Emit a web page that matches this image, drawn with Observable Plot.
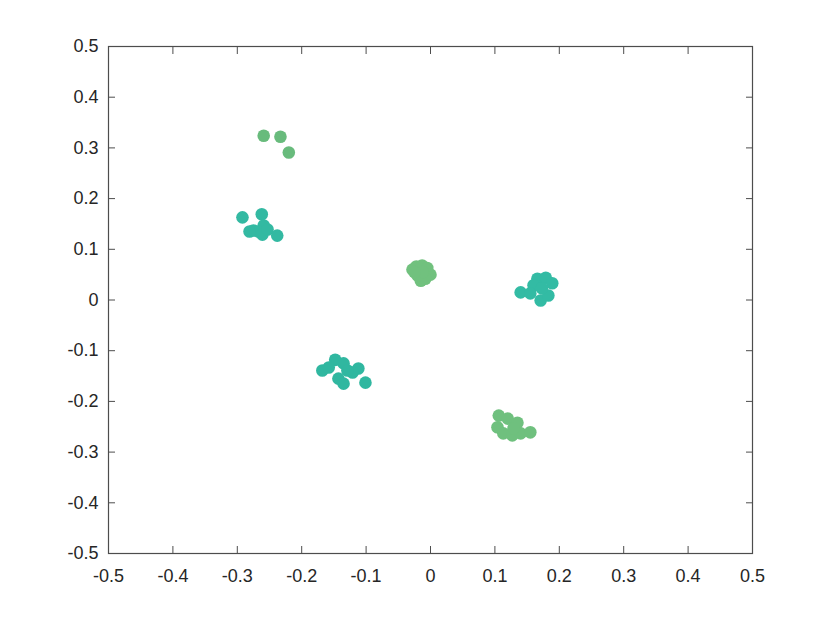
<!DOCTYPE html>
<html>
<head>
<meta charset="utf-8">
<script src="https://cdn.jsdelivr.net/npm/d3@7"></script>
<script src="https://cdn.jsdelivr.net/npm/@observablehq/plot@0.6"></script>
<style>
  body { margin: 0; background: #fff; }
  #chart { width: 830px; height: 623px; }
</style>
</head>
<body>
<div id="chart"></div>
<script>
// Tick positions and labels
const xTicks = [-0.5, -0.4, -0.3, -0.2, -0.1, 0, 0.1, 0.2, 0.3, 0.4, 0.5];
const xTickLabels = ["-0.5", "-0.4", "-0.3", "-0.2", "-0.1", "0", "0.1", "0.2", "0.3", "0.4", "0.5"];
const yTicks = [-0.5, -0.4, -0.3, -0.2, -0.1, 0, 0.1, 0.2, 0.3, 0.4, 0.5];
const yTickLabels = ["-0.5", "-0.4", "-0.3", "-0.2", "-0.1", "0", "0.1", "0.2", "0.3", "0.4", "0.5"];

// Clusters (x, y)
const clusterA_x = [-0.259, -0.233, -0.220];
const clusterA_y = [0.324, 0.322, 0.291];

const clusterB_x = [-0.292, -0.262, -0.259, -0.275, -0.267, -0.261, -0.253, -0.238, -0.281];
const clusterB_y = [0.163, 0.169, 0.147, 0.137, 0.135, 0.129, 0.139, 0.127, 0.135];

const clusterC_x = [-0.028, -0.022, -0.013, -0.005, 0.000, -0.008, -0.015, -0.020, -0.012, -0.025];
const clusterC_y = [0.060, 0.066, 0.068, 0.063, 0.050, 0.042, 0.038, 0.048, 0.055, 0.055];

const clusterD_x = [0.140, 0.166, 0.179, 0.189, 0.160, 0.171, 0.183, 0.155, 0.173];
const clusterD_y = [0.015, 0.042, 0.044, 0.033, 0.029, -0.001, 0.009, 0.013, 0.023];

const clusterE_x = [-0.168, -0.148, -0.135, -0.112, -0.121, -0.143, -0.135, -0.101, -0.158, -0.129];
const clusterE_y = [-0.139, -0.118, -0.125, -0.135, -0.143, -0.155, -0.165, -0.163, -0.133, -0.139];

const clusterF_x = [0.106, 0.120, 0.135, 0.104, 0.113, 0.127, 0.140, 0.155, 0.129];
const clusterF_y = [-0.228, -0.234, -0.242, -0.251, -0.263, -0.267, -0.263, -0.261, -0.253];

const clusterNames = ["A", "B", "C", "D", "E", "F"];
const clusterColors = ["#68bb7c", "#33b9a2", "#71c17e", "#33bba4", "#30b7a0", "#6fc07e"];

const clusters = [
  [clusterA_x, clusterA_y], [clusterB_x, clusterB_y], [clusterC_x, clusterC_y],
  [clusterD_x, clusterD_y], [clusterE_x, clusterE_y], [clusterF_x, clusterF_y]
];
const points = [];
clusters.forEach(([xs, ys], i) => xs.forEach((x, j) => points.push({x, y: ys[j], g: clusterNames[i]})));

const axisColor = "#4d4d4d";
const textColor = "#262626";

const chart = Plot.plot({
  width: 830,
  height: 623,
  marginLeft: 108,
  marginRight: 78,
  marginTop: 46,
  marginBottom: 70,
  style: { fontFamily: "'Liberation Sans', Arial, sans-serif", fontSize: "18px", color: textColor, background: "#fff" },
  x: { domain: [-0.5, 0.5] },
  y: { domain: [-0.5, 0.5] },
  color: { domain: clusterNames, range: clusterColors },
  marks: [
    Plot.dot(points, { x: "x", y: "y", r: 6.3, fill: "g", stroke: null }),
    Plot.frame({ stroke: axisColor, strokeWidth: 1.2 }),
    // labels
    Plot.axisX({ anchor: "bottom", ticks: xTicks, tickSize: 0, tickPadding: 16, tickFormat: (d, i) => xTickLabels[i], label: null, fill: textColor, fontSize: 18 }),
    Plot.axisY({ anchor: "left", ticks: yTicks, tickSize: 0, tickPadding: 10, tickFormat: (d, i) => yTickLabels[i], label: null, fill: textColor, fontSize: 18 }),
    // inward ticks on all four sides
    Plot.axisX({ anchor: "bottom", ticks: xTicks, tickSize: -7, tickFormat: () => null, label: null, stroke: axisColor }),
    Plot.axisX({ anchor: "top", ticks: xTicks, tickSize: -7, tickFormat: () => null, label: null, stroke: axisColor }),
    Plot.axisY({ anchor: "left", ticks: yTicks, tickSize: -7, tickFormat: () => null, label: null, stroke: axisColor }),
    Plot.axisY({ anchor: "right", ticks: yTicks, tickSize: -7, tickFormat: () => null, label: null, stroke: axisColor })
  ]
});
document.getElementById("chart").appendChild(chart);
</script>
</body>
</html>
